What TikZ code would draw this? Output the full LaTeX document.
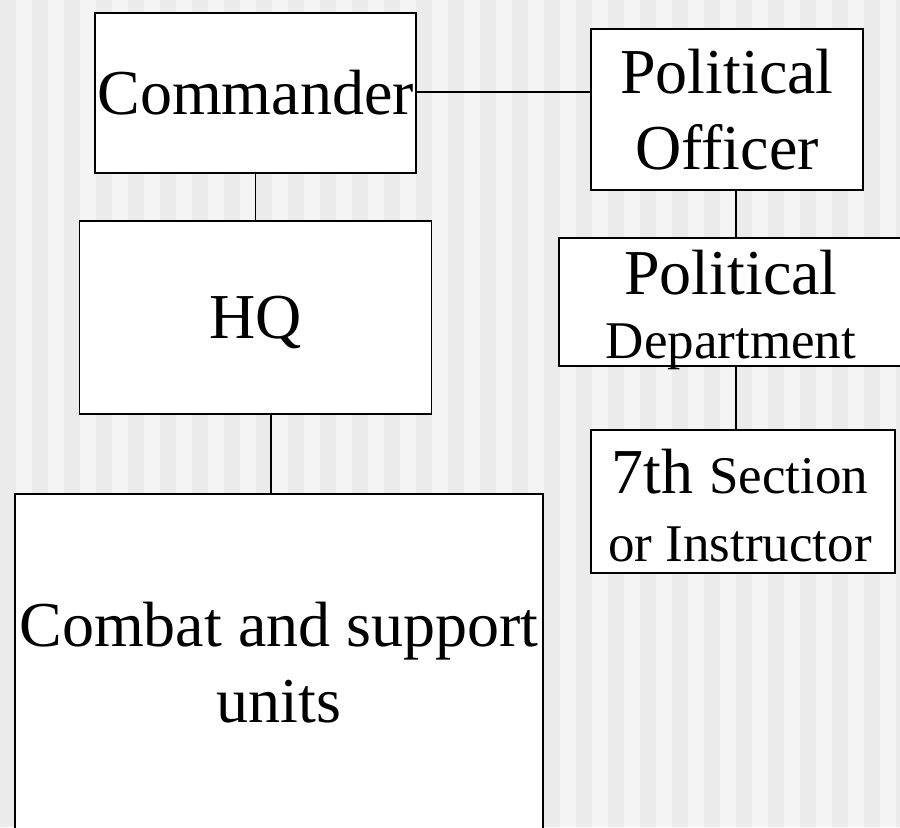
\documentclass[tikz,border=0pt]{standalone}
\usepackage{fontspec}
\setmainfont{Liberation Serif}
\newfontfamily\tnr{Liberation Serif}
\usepackage{tikz}
\usetikzlibrary{positioning,calc}
\definecolor{stripeA}{RGB}{235,235,235}
\definecolor{stripeB}{RGB}{244,244,244}
\newcommand{\bigtxt}{\tnr\fontsize{32}{38.4}\selectfont}
\newcommand{\smalltxt}{\tnr\fontsize{26.5}{32}\selectfont}

\begin{document}
\begin{tikzpicture}[
    x=0.5pt, y=-0.5pt,
    box/.style={rectangle, draw, line width=0.9pt, fill=white, inner sep=0pt, align=center, font=\bigtxt},
    link/.style={line width=0.9pt}
]
    % Background stripes
    \useasboundingbox (0,0) rectangle (900,827);
    \fill[stripeB] (0,0) rectangle (900,827);
    \foreach \i in {0,...,28}
        \fill[stripeA] (32*\i,0) rectangle (32*\i+16,827);

    % Left column
    \node[box, minimum width=160.5pt, minimum height=80pt] (cmd) at (255.5,93) {Commander};
    \node[box, minimum width=176pt, minimum height=96.5pt, text depth=0pt] (hq) at (255.5,317.5) {HQ};
    \node[box, minimum width=264pt, minimum height=168.5pt] (cbt) at (279,662.5) {Combat and support\\units};

    % Right column
    \node[box, minimum width=136pt, minimum height=80.5pt] (po) at (727,109.5) {Political\\Officer};
    \node[box, minimum width=172pt, minimum height=64pt] (pd) at (731,302) {};
    \node[font=\bigtxt, align=center, inner sep=0pt] (pdtxt) at (731,310) {Political\\[-6pt]{\smalltxt Department}};
    \node[box, minimum width=152pt, minimum height=71.5pt] (sec) at (743,501.5) {};
    \node[font=\bigtxt, align=center, inner sep=0pt] (sectxt) at (740,505.5) {7th {\smalltxt Section}\\[-4pt]{\smalltxt or Instructor}};

    % Connections
    \draw[link] ([yshift=0.5pt]cmd.east) -- ([yshift=0.5pt]cmd.east -| po.west);
    \draw[link] (cmd.south) -- (hq.north);
    \draw[link] ([xshift=7.75pt]hq.south) -- ([xshift=7.75pt]hq.south |- cbt.north);
    \draw[link] ([xshift=4.5pt]po.south) -- ([xshift=4.5pt]po.south |- pd.north);
    \draw[link] ([xshift=2.5pt]pd.south) -- ([xshift=2.5pt]pd.south |- sec.north);
\end{tikzpicture}
\end{document}
